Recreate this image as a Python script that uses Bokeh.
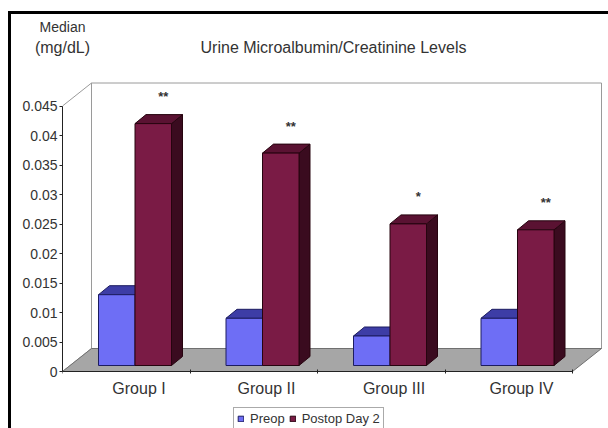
from bokeh.plotting import figure
from bokeh.models import (Range1d, LinearAxis, FixedTicker, Legend, LegendItem,
                          ColumnDataSource)
from bokeh.core.properties import value
from bokeh.embed import file_html
from bokeh.resources import INLINE

# ---------------- data ----------------
GROUPS = ["Group I", "Group II", "Group III", "Group IV"]
SERIES = ["Preop", "Postop Day 2"]
PREOP = [0.012, 0.008, 0.005, 0.008]
POSTOP = [0.041, 0.036, 0.024, 0.023]
STARS = ["**", "**", "*", "**"]
Y_TICKS = [0, 0.005, 0.01, 0.015, 0.02, 0.025, 0.03, 0.035, 0.04, 0.045]
Y_TICK_LABELS = ["0", "0.005", "0.01", "0.015", "0.02", "0.025", "0.03", "0.035", "0.04", "0.045"]
TITLE = "Urine Microalbumin/Creatinine Levels"
Y_TITLE = ["Median", "(mg/dL)"]

# ---------------- geometry / style ----------------
FONT = "Liberation Sans"
W, H = 608, 428
LEFT, TOP = 62, 60
ZERO_Y = 371     # pixel row of the value 0
PX_X = 127.5     # pixels per category slot
PX_Y = 5900.0    # pixels per unit of value
frame_w = W - LEFT

DX, DY = 29 / PX_X, 23 / PX_Y          # depth of the 3D box
BOX, BOY = 8 / PX_X, 6 / PX_Y          # bar row offset inside depth
BDX, BDY = 11 / PX_X, 9 / PX_Y         # depth of a bar
BAR_L = 28 / PX_X
BAR_W = 36.5 / PX_X
TITLE_X = (333 - LEFT) / PX_X

BLUE_FRONT, BLUE_TOP, BLUE_SIDE, BLUE_LINE = "#6e6ef5", "#3d3da6", "#2c2c80", "#1c1c60"
RED_FRONT, RED_TOP, RED_SIDE, RED_LINE = "#7a1b45", "#5a1232", "#3a0b1f", "#26040f"
WALL_LINE = "#9a9a9a"
FLOOR = "#a6a6a6"
TEXT = "#333333"

n = len(GROUPS)
y_max = Y_TICKS[-1]

p = figure(width=W, height=H, x_range=Range1d(0, frame_w / PX_X),
           y_range=Range1d(-(H - ZERO_Y) / PX_Y, (ZERO_Y - TOP) / PX_Y),
           output_backend="svg",
           toolbar_location=None, title=None, x_axis_type=None, y_axis_type=None,
           min_border_left=LEFT, min_border_bottom=0, min_border_right=0,
           min_border_top=TOP)
p.outline_line_color = None
p.background_fill_color = "white"
p.border_fill_color = None
p.grid.visible = False
# outer black frame of the figure panel (left and top edges)
p.styles = {"box-shadow": "inset 8px 11px 0 0 white, inset 11px 14px 0 0 black"}

# ---- walls & floor ----
p.patch([0, 0, DX, DX], [0, y_max, y_max + DY, DY], fill_color="white",
        line_color=WALL_LINE, line_width=1)
p.patch([DX, n + DX, n + DX, DX], [DY, DY, y_max + DY, y_max + DY],
        fill_color="white", line_color=WALL_LINE, line_width=1)
p.patch([0, n, n + DX, DX], [0, 0, DY, DY], fill_color=FLOOR,
        line_color="#707070", line_width=1)

# ---- bars ----
legend_items = []
for s, (vals, cols) in enumerate([(PREOP, (BLUE_FRONT, BLUE_TOP, BLUE_SIDE, BLUE_LINE)),
                                  (POSTOP, (RED_FRONT, RED_TOP, RED_SIDE, RED_LINE))]):
    front, top, side, line = cols
    left = [i + BAR_L + BOX + s * BAR_W for i in range(n)]
    right = [l + BAR_W for l in left]
    bottom = [BOY] * n
    tops = [BOY + v for v in vals]
    side_xs = [[r, r + BDX, r + BDX, r] for r in right]
    side_ys = [[b, b + BDY, t + BDY, t] for b, t in zip(bottom, tops)]
    top_xs = [[l, r, r + BDX, l + BDX] for l, r in zip(left, right)]
    top_ys = [[t, t, t + BDY, t + BDY] for t in tops]
    p.patches(side_xs, side_ys, fill_color=side, line_color=line, line_width=1)
    p.patches(top_xs, top_ys, fill_color=top, line_color=line, line_width=1)
    src = ColumnDataSource(dict(left=left, right=right, bottom=bottom, top=tops,
                                value=vals, group=GROUPS))
    r_front = p.quad(left="left", right="right", bottom="bottom", top="top",
                     source=src, fill_color=front, line_color=line, line_width=1)
    legend_items.append(LegendItem(label=SERIES[s], renderers=[r_front]))

# ---- significance stars ----
p.text(x=[i + 0.79 for i in range(n)], y=[BOY + v + 27 / PX_Y for v in POSTOP],
       text=STARS, text_align="center", text_baseline="middle",
       text_font=value(FONT), text_font_size="13px", text_color=TEXT,
       text_font_style="bold")

# ---- value axis ----
yax = LinearAxis(ticker=FixedTicker(ticks=Y_TICKS, minor_ticks=[]), bounds=(0, y_max))
yax.major_label_overrides = {t: l for t, l in zip(Y_TICKS, Y_TICK_LABELS)}
yax.axis_line_color = "#222222"
yax.major_tick_line_color = "#222222"
yax.major_tick_out = 3
yax.major_tick_in = 0
yax.minor_tick_line_color = None
yax.major_label_standoff = 2
yax.major_label_text_font = FONT
yax.major_label_text_font_size = "14px"
yax.major_label_text_color = TEXT
p.add_layout(yax, "left")

# ---- category axis (front edge of the floor, at value 0) ----
xax = LinearAxis(ticker=FixedTicker(ticks=[i + 0.6 for i in range(n)],
                                    minor_ticks=list(range(n + 1))),
                 bounds=(0, n), fixed_location=0)
xax.major_label_overrides = {i + 0.6: g for i, g in enumerate(GROUPS)}
xax.axis_line_color = "#222222"
xax.major_tick_line_color = None
xax.minor_tick_line_color = "#222222"
xax.minor_tick_in = 2
xax.minor_tick_out = 2
xax.major_label_standoff = 2
xax.major_label_text_font = FONT
xax.major_label_text_font_size = "16px"
xax.major_label_text_color = TEXT
p.add_layout(xax, "below")

# ---- header texts (as unlined axes above the plot) ----
def header_axis(ticks, labels, size, standoff):
    ax = LinearAxis(ticker=FixedTicker(ticks=ticks, minor_ticks=[]))
    ax.major_label_overrides = {t: l for t, l in zip(ticks, labels)}
    ax.axis_line_color = None
    ax.major_tick_line_color = None
    ax.minor_tick_line_color = None
    ax.major_tick_out = 0
    ax.major_tick_in = 0
    ax.major_label_standoff = standoff
    ax.major_label_text_font = FONT
    ax.major_label_text_font_size = size
    ax.major_label_text_color = TEXT
    return ax

p.add_layout(header_axis([0, TITLE_X], [Y_TITLE[1], TITLE], "16px", 5), "above")
p.add_layout(header_axis([0], [Y_TITLE[0]], "14px", 1), "above")

# ---- legend ----
legend = Legend(items=legend_items, orientation="horizontal", location=(171, -2),
                label_text_font=FONT, label_text_font_size="13px",
                label_text_color=TEXT, glyph_width=7, glyph_height=7,
                label_standoff=6, spacing=4, padding=3, margin=0,
                border_line_color="#555555", background_fill_color="white",
                background_fill_alpha=1)
p.add_layout(legend, "center")

open("out.html", "w").write(file_html(p, INLINE))
